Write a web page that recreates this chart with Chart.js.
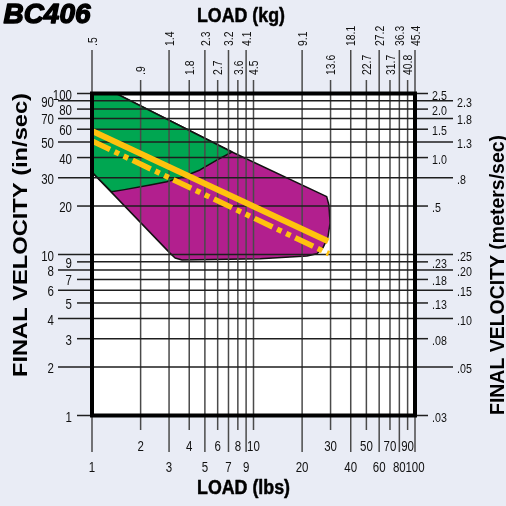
<!DOCTYPE html>
<html>
<head>
<meta charset="utf-8">
<script src="https://cdn.jsdelivr.net/npm/chart.js@4/dist/chart.umd.min.js"></script>
<style>
  html, body { margin: 0; padding: 0; background: #E9ECF5; }
  #wrap { width: 506px; height: 506px; }
  canvas { display: block; }
</style>
</head>
<body>
<div id="wrap"><canvas id="chart" width="506" height="506"></canvas></div>
<script>
// Load axis: pound ticks and the matching kilogram labels
const loadLbs = [1, 2, 3, 4, 5, 6, 7, 8, 9, 10, 20, 30, 40, 50, 60, 70, 80, 90, 100];
const loadKg = ['.5', '.9', '1.4', '1.8', '2.3', '2.7', '3.2', '3.6', '4.1', '4.5',
                '9.1', '13.6', '18.1', '22.7', '27.2', '31.7', '36.3', '40.8', '45.4'];

// Velocity axis: in/sec ticks and the matching meters/sec labels
const velIn = [1, 2, 3, 4, 5, 6, 7, 8, 9, 10, 20, 30, 40, 50, 60, 70, 80, 90, 100];
const velMs = ['.03', '.05', '.08', '.10', '.13', '.15', '.18', '.20', '.23', '.25',
               '.5', '.8', '1.0', '1.3', '1.5', '1.8', '2.0', '2.3', '2.5'];

// Whole operating envelope (purple zone), traced clockwise
const envelopeLoad = [1, 1.41, 7.36, 28.4, 29.3, 29.8, 28.9, 26.9, 24.7, 21.4, 11.0, 3.61, 3.27, 3.04, 1, 1];
const envelopeVel  = [100, 100, 43.3, 22.9, 20.3, 15.7, 12.8, 11.0, 10.1, 9.8, 9.4, 9.24, 9.5, 10.2, 32.5, 100];

// Upper-left green zone
const greenLoad = [1, 1.41, 7.36, 5.92, 4.66, 3.67, 2.90, 2.29, 1.56, 1.32, 1, 1];
const greenVel  = [100, 100, 43.3, 38.6, 33.5, 30.4, 28.3, 27.0, 25.2, 24.5, 32.5, 100];

// Yellow limit lines
const solidLoad = [1, 29.0];
const solidVel  = [58.5, 12.1];
const dashLoad  = [1, 29.3];
const dashVel   = [50.7, 10.1];

const toPoints = (xs, ys) => xs.map((x, i) => ({ x: x, y: ys[i] }));

const FONT = '"Liberation Sans", Arial, sans-serif';
const PAGE_BG = '#E9ECF5';
const GREEN = '#00A651';
const PURPLE = '#B21F8E';
const YELLOW = '#FFC20E';
const V_GRID = '#4a4a4a';
const H_GRID = '#1e1e1e';
const DASH_INDEX = 3;

function txt(ctx, s, x, y, o) {
  ctx.save();
  ctx.translate(x, y);
  if (o.rot) ctx.rotate(o.rot);
  ctx.font = o.font;
  let sx = o.sx || 1;
  if (o.fit) sx = o.fit / ctx.measureText(s).width;
  ctx.scale(sx, 1);
  ctx.textAlign = o.align || 'center';
  ctx.textBaseline = 'alphabetic';
  ctx.fillStyle = o.color || '#111';
  ctx.fillText(s, 0, 0);
  if (o.heavy) {
    ctx.lineWidth = o.heavy;
    ctx.lineJoin = 'round';
    ctx.strokeStyle = o.color || '#111';
    ctx.strokeText(s, 0, 0);
  }
  ctx.restore();
}

function line(ctx, x1, y1, x2, y2, color) {
  ctx.strokeStyle = color;
  ctx.beginPath();
  ctx.moveTo(x1, y1);
  ctx.lineTo(x2, y2);
  ctx.stroke();
}

const decor = {
  id: 'decor',
  beforeDraw(chart) {
    const { ctx, chartArea: a, width, height } = chart;
    ctx.save();
    ctx.fillStyle = PAGE_BG;
    ctx.fillRect(0, 0, width, height);
    ctx.fillStyle = '#ffffff';
    ctx.fillRect(a.left, a.top, a.right - a.left, a.bottom - a.top);
    ctx.restore();
  },
  // grid sits over the coloured zones but under the yellow lines
  beforeDatasetDraw(chart, args) {
    if (args.index !== DASH_INDEX) return;
    const { ctx, chartArea: a, scales: { x, y } } = chart;
    ctx.save();
    ctx.lineWidth = 1.5;
    loadLbs.forEach(v => { const px = x.getPixelForValue(v); line(ctx, px, a.top, px, a.bottom, V_GRID); });
    velIn.forEach(v => { const py = y.getPixelForValue(v); line(ctx, a.left, py, a.right, py, H_GRID); });
    ctx.restore();
  },
  afterDraw(chart) {
    const { ctx, chartArea: a, scales: { x, y } } = chart;
    ctx.save();
    ctx.lineWidth = 1.5;

    // lbs ticks below, kg ticks above
    loadLbs.forEach((v, i) => {
      const px = x.getPixelForValue(v);
      const near = i % 2 === 1;
      line(ctx, px, a.bottom, px, near ? 430 : 452, V_GRID);
      line(ctx, px, a.top, px, near ? 80 : 50, V_GRID);
      txt(ctx, String(v), px, near ? 451 : 472, { font: '14px ' + FONT, sx: 0.82 });
      txt(ctx, loadKg[i], px + 4.7, near ? 75 : 46, { font: '13px ' + FONT, sx: 0.8, rot: -Math.PI / 2, align: 'left' });
    });

    // in/sec ticks on the left, m/sec ticks on the right
    velIn.forEach((v, i) => {
      const py = y.getPixelForValue(v);
      const near = i % 2 === 0;
      line(ctx, a.left, py, near ? 77 : 58, py, H_GRID);
      line(ctx, a.right, py, near ? 428 : 453, py, H_GRID);
      txt(ctx, String(v), near ? 72 : 54, py + 6, { font: '14px ' + FONT, sx: 0.82, align: 'right' });
      txt(ctx, velMs[i], near ? 432 : 457, py + 6, { font: '13px ' + FONT, sx: 0.82, align: 'left' });
    });

    // frame
    ctx.lineWidth = 4;
    ctx.strokeStyle = '#000';
    ctx.strokeRect(a.left, a.top, a.right - a.left, a.bottom - a.top);

    // titles
    txt(ctx, 'BC406', 3.5, 22.5, { font: 'italic bold 28px ' + FONT, align: 'left', fit: 87, color: '#000', heavy: 1.4 });
    txt(ctx, 'LOAD (kg)', 241, 22, { font: 'bold 20px ' + FONT, fit: 88, color: '#000', heavy: 0.5 });
    txt(ctx, 'LOAD (lbs)', 243.5, 494, { font: 'bold 20px ' + FONT, fit: 93, color: '#000', heavy: 0.5 });
    txt(ctx, 'FINAL VELOCITY (in/sec)', 27, 235, { font: 'bold 21px ' + FONT, fit: 284, rot: -Math.PI / 2, color: '#000' });
    txt(ctx, 'FINAL VELOCITY (meters/sec)', 504, 275, { font: 'bold 20px ' + FONT, fit: 280, rot: -Math.PI / 2, color: '#000' });
    ctx.restore();
  }
};

new Chart(document.getElementById('chart'), {
  type: 'scatter',
  data: {
    datasets: [
      {
        label: 'envelope',
        data: toPoints(envelopeLoad, envelopeVel),
        showLine: true, fill: 'shape', tension: 0,
        backgroundColor: PURPLE, borderColor: '#111', borderWidth: 1.5,
        borderJoinStyle: 'round', pointRadius: 0, order: 4
      },
      {
        label: 'green zone',
        data: toPoints(greenLoad, greenVel),
        showLine: true, fill: 'shape', tension: 0,
        backgroundColor: GREEN, borderColor: '#111', borderWidth: 1.5,
        borderJoinStyle: 'round', pointRadius: 0, order: 3
      },
      {
        label: 'solid limit',
        data: toPoints(solidLoad, solidVel),
        showLine: true, fill: false,
        borderColor: YELLOW, borderWidth: 6, borderCapStyle: 'butt',
        pointRadius: 0, order: 1
      },
      {
        label: 'dashed limit',
        data: toPoints(dashLoad, dashVel),
        showLine: true, fill: false,
        borderColor: YELLOW, borderWidth: 5.5, borderCapStyle: 'butt',
        borderDash: [20, 5, 5, 5, 5, 5],
        pointRadius: 0, order: 2
      }
    ]
  },
  options: {
    responsive: false,
    animation: false,
    devicePixelRatio: 1,
    layout: { padding: { left: 92, top: 93.5, right: 91, bottom: 90.5 } },
    plugins: { legend: { display: false }, tooltip: { enabled: false } },
    scales: {
      x: { type: 'logarithmic', min: 1, max: 100, display: false },
      y: { type: 'logarithmic', min: 1, max: 100, display: false }
    }
  },
  plugins: [decor]
});
</script>
</body>
</html>
